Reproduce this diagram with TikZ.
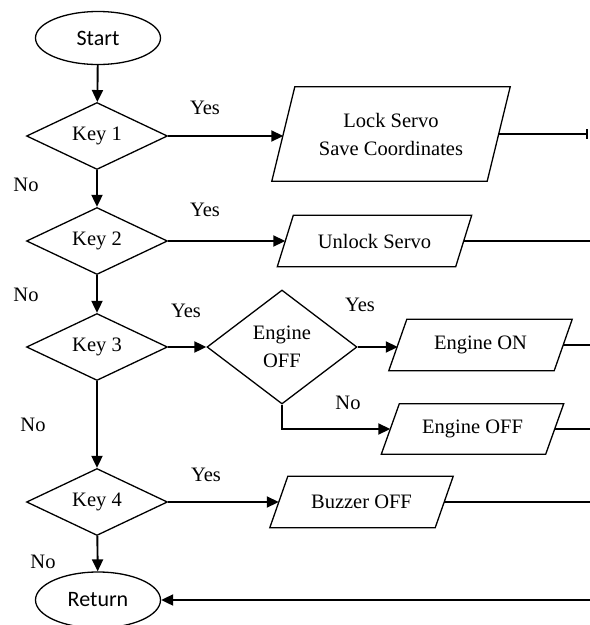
\documentclass[tikz,border=0pt]{standalone}
\usepackage{fontspec}
\setmainfont{Liberation Serif}
\newfontfamily\carlitofont{Carlito}
\usetikzlibrary{shapes.geometric,arrows.meta}
\newcommand\drawpara[2]{%
  \draw[shapeline] ([xshift=#2/2]#1.north west) -- ([xshift=#2/2]#1.north east)
    -- ([xshift=-#2/2]#1.south east) -- ([xshift=-#2/2]#1.south west) -- cycle;}
\begin{document}
\begin{tikzpicture}[x=1pt,y=-1pt,
  font=\fontsize{20.5pt}{28pt}\selectfont,
  shapeline/.style={line width=1.3pt,line join=miter},
  terminal/.style={ellipse,draw,shapeline,minimum width=125pt,minimum height=53pt,inner sep=0pt,font=\carlitofont\fontsize{22pt}{26pt}\selectfont},
  decision/.style={diamond,draw,shapeline,inner sep=0pt,aspect=1.3,align=center},
  keybox/.style={decision,minimum width=141pt,minimum height=67pt},
  io/.style={rectangle,inner sep=0pt,align=center},
  conn/.style={line width=1.9pt,-{Triangle[length=12pt,width=11pt]}},
  outl/.style={line width=1.9pt},
  lbl/.style={inner sep=0pt}
]
\useasboundingbox (0,0) rectangle (590,625);

\node[terminal] (start) at (98,38) {Start};
\node[keybox] (k1) at (97,136) {Key 1};
\node[keybox] (k2) at (97,241) {Key 2};
\node[keybox] (k3) at (97,347) {Key 3};
\node[keybox] (k4) at (97,502) {Key 4};
\node[terminal,minimum height=56pt] (ret) at (98,600) {Return};
\node[decision,minimum width=150pt,minimum height=114pt] (eng) at (282,347) {Engine\\OFF};

\node[io,minimum width=215pt,minimum height=94pt] (lock) at (391,134) {Lock Servo\\Save Coordinates};
\node[io,minimum width=178pt,minimum height=51pt] (unlock) at (374.5,241) {Unlock Servo};
\node[io,minimum width=165pt,minimum height=51pt] (engon) at (480.5,345) {Engine ON};
\node[io,minimum width=164pt,minimum height=50pt] (engoff) at (472.5,429) {Engine OFF};
\node[io,minimum width=165pt,minimum height=51pt] (buzz) at (361.5,502) {Buzzer OFF};
\drawpara{lock}{23}
\drawpara{unlock}{16}
\drawpara{engon}{18}
\drawpara{engoff}{18}
\drawpara{buzz}{18}

\coordinate (edge) at (590,0);
\coordinate (baredge) at (588,0);
\coordinate (rin) at (590,600);

\draw[conn] (start) -- (k1);
\draw[conn] (k1) -- (k2);
\draw[conn] (k2) -- (k3);
\draw[conn] (k3) -- (k4);
\draw[conn] (k4) -- (ret);

\draw[conn] (k1.east) -- (k1.east -| lock.west);
\draw[conn] (k2.east) -- (k2.east -| unlock.west);
\draw[conn] (k3.east) -- (eng.west);
\draw[conn] (eng.east) -- (eng.east -| engon.west);
\draw[conn] (eng.south) |- (engoff.west);
\draw[conn] (k4.east) -- (k4.east -| buzz.west);

\draw[outl,-{Bar[width=10pt]}] (lock.east) -- (lock.east -| baredge);
\draw[outl] (unlock.east) -- (unlock.east -| edge);
\draw[outl] (engon.east) -- (engon.east -| edge);
\draw[outl] (engoff.east) -- (engoff.east -| edge);
\draw[outl] (buzz.east) -- (buzz.east -| edge);
\draw[conn] (rin) -- (rin -| ret.east);

\node[lbl] (y1) at (205,108) {Yes};
\node[lbl] (n1) at (26,185) {No};
\node[lbl] (y2) at (205,210) {Yes};
\node[lbl] (n2) at (26,295) {No};
\node[lbl] (y3) at (186,311) {Yes};
\node[lbl] (ye) at (360,305) {Yes};
\node[lbl] (ne) at (348,403) {No};
\node[lbl] (n3) at (33,425) {No};
\node[lbl] (y4) at (206,475) {Yes};
\node[lbl] (n4) at (43,562) {No};
\end{tikzpicture}
\end{document}
